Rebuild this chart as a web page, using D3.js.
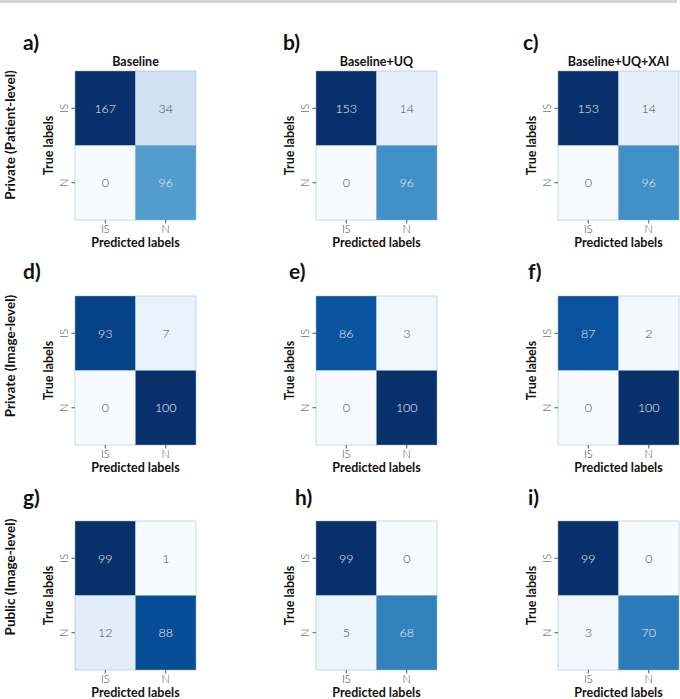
<!DOCTYPE html>
<html>
<head>
<meta charset="utf-8">
<script src="https://d3js.org/d3.v7.min.js"></script>
<style>
    body { margin: 0; background: #fff; }
    text { font-family: "Lato", "DejaVu Sans", sans-serif; }
    .domain { display: none; }
</style>
</head>
<body>
<svg id="visual" width="680" height="699"></svg>
<script>
    // classes and labels
    const classes = ["IS", "N"];
    const columnTitles = ["Baseline", "Baseline+UQ", "Baseline+UQ+XAI"];
    const rowTitles = ["Private (Patient-level)", "Private (Image-level)", "Public (Image-level)"];
    const panelLetters = ["a)", "b)", "c)", "d)", "e)", "f)", "g)", "h)", "i)"];

    // confusion matrices, row = true label, column = predicted label
    const matA = [[167, 34], [0, 96]];
    const matB = [[153, 14], [0, 96]];
    const matC = [[153, 14], [0, 96]];
    const matD = [[93, 7], [0, 100]];
    const matE = [[86, 3], [0, 100]];
    const matF = [[87, 2], [0, 100]];
    const matG = [[99, 1], [12, 88]];
    const matH = [[99, 0], [5, 68]];
    const matI = [[99, 0], [3, 70]];
    const matrices = [matA, matB, matC, matD, matE, matF, matG, matH, matI];

    // matplotlib "Blues"
    const blues = ["#f7fbff", "#deebf7", "#c6dbef", "#9ecae1", "#6baed6", "#4292c6", "#2171b5", "#08519c", "#08306b"];

    const svg = d3.select("#visual");

    // grey strip at the very top
    svg.append("rect").attr("x", 0).attr("y", 0).attr("width", 677).attr("height", 3).attr("fill", "#d6d6d6");

    const colLeft = [75, 316, 558];
    const rowTop = [71, 296, 521];
    const cellW = 121, cellH = 149;
    const letterX = [[23, 283, 523], [23, 289, 528], [23, 295, 528]];
    const letterY = [50, 279, 505];
    const rowTitleY = [135, 356, 577];

    function luminance(c) {
        const rgb = d3.rgb(c);
        const f = v => { v /= 255; return v <= 0.03928 ? v / 12.92 : Math.pow((v + 0.055) / 1.055, 2.4); };
        return 0.2126 * f(rgb.r) + 0.7152 * f(rgb.g) + 0.0722 * f(rgb.b);
    }

    matrices.forEach(function (m, k) {
        const r = Math.floor(k / 3), c = k % 3;
        const x0 = colLeft[c], y0 = rowTop[r];
        const g = svg.append("g").attr("transform", "translate(" + x0 + "," + y0 + ")");

        const xs = d3.scaleBand().domain(classes).range([0, cellW]);
        const ys = d3.scaleBand().domain(classes).range([0, cellH]);

        const flat = m.flat();
        const lo = d3.min(flat), hi = d3.max(flat);
        const color = d3.scaleLinear()
            .domain(blues.map((d, i) => lo + (hi - lo) * i / (blues.length - 1)))
            .range(blues);

        const cells = [];
        classes.forEach((t, i) => classes.forEach((p, j) => cells.push({ t: t, p: p, v: m[i][j] })));

        g.selectAll("rect.cell")
            .data(cells)
            .enter()
            .append("rect")
            .attr("class", "cell")
            .attr("x", d => xs(d.p))
            .attr("y", d => ys(d.t))
            .attr("width", xs.bandwidth())
            .attr("height", ys.bandwidth())
            .attr("fill", d => color(d.v))
            .attr("stroke", "#8fb3d9")
            .attr("stroke-opacity", 0.6)
            .attr("stroke-width", 0.8);

        g.selectAll("text.val")
            .data(cells)
            .enter()
            .append("text")
            .attr("class", "val")
            .attr("x", d => xs(d.p) + xs.bandwidth() / 2)
            .attr("y", d => ys(d.t) + ys.bandwidth() / 2)
            .attr("text-anchor", "middle")
            .attr("dominant-baseline", "central")
            .attr("font-size", 12.5)
            .attr("font-weight", 300)
            .attr("fill", d => luminance(color(d.v)) > 0.408 ? "#4a4a4a" : "#eef2f8")
            .text(d => d.v);

        // axes
        const ax = g.append("g").attr("transform", "translate(0," + cellH + ")")
            .call(d3.axisBottom(xs).tickSize(3.5).tickPadding(2));
        ax.selectAll("text").attr("font-size", 11).attr("fill", "#444").attr("font-weight", 300);
        ax.selectAll("line").attr("stroke", "#555");

        const ay = g.append("g").call(d3.axisLeft(ys).tickSize(3.5).tickPadding(3));
        ay.selectAll("text")
            .attr("font-size", 11).attr("fill", "#444").attr("font-weight", 300)
            .attr("text-anchor", "middle")
            .attr("transform", "rotate(-90)")
            .attr("x", 0).attr("dy", "0")
            .attr("y", -7);
        ay.selectAll("line").attr("stroke", "#555");

        g.append("text")
            .attr("x", cellW / 2).attr("y", cellH + 27)
            .attr("text-anchor", "middle")
            .attr("font-size", 12.5).attr("font-weight", "bold").attr("fill", "#111")
            .text("Predicted labels");

        g.append("text")
            .attr("transform", "translate(-22," + (cellH / 2) + ") rotate(-90)")
            .attr("text-anchor", "middle")
            .attr("font-size", 12.5).attr("font-weight", "bold").attr("fill", "#111")
            .text("True labels");

        if (r === 0) {
            g.append("text")
                .attr("x", cellW / 2).attr("y", -5)
                .attr("text-anchor", "middle")
                .attr("font-size", 12.5).attr("font-weight", "bold").attr("fill", "#111")
                .text(columnTitles[c]);
        }

        svg.append("text")
            .attr("x", letterX[r][c]).attr("y", letterY[r])
            .attr("font-size", 21).attr("font-weight", "bold").attr("fill", "#111")
            .text(panelLetters[k]);
    });

    rowTitles.forEach(function (t, r) {
        svg.append("text")
            .attr("transform", "translate(15," + rowTitleY[r] + ") rotate(-90)")
            .attr("text-anchor", "middle")
            .attr("font-size", 13.5).attr("font-weight", "bold").attr("fill", "#111")
            .text(t);
    });
</script>
</body>
</html>
